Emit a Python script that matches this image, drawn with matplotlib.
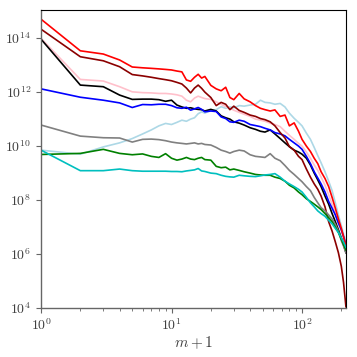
import numpy as np
import matplotlib
matplotlib.use('Agg')
import matplotlib.pyplot as plt
from matplotlib.ticker import LogLocator, NullFormatter

plt.rcParams['mathtext.fontset'] = 'cm'
plt.rcParams['font.family'] = 'serif'

#dane (m+1, log10 wartosci)
m1 = [1, 2, 3, 4, 5, 6, 7, 8, 9, 10, 11, 12, 13, 14, 15, 16, 17, 18, 20, 22,
      24, 26, 28, 30, 33, 36, 40, 44, 48, 52, 57, 62, 68, 74, 80, 87, 94, 100,
      108, 116, 124, 132, 140, 150, 160, 170, 180, 190, 200, 208, 217]

red = [14.70, 13.53, 13.41, 13.19, 12.93, 12.90, 12.88, 12.86, 12.84, 12.82, 12.78,
       12.75, 12.45, 12.40, 12.55, 12.66, 12.52, 12.58, 12.25, 12.12, 12.05, 12.18,
       11.80, 11.72, 11.95, 11.75, 11.64, 11.50, 11.40, 11.35, 11.30, 11.34, 11.10,
       11.15, 10.75, 10.86, 10.55, 10.25, 10.00, 9.80, 9.55, 9.35, 9.05, 8.80, 8.50,
       8.10, 7.70, 7.30, 6.95, 6.65, 6.30]
darkred = [14.33, 13.31, 13.16, 12.94, 12.65, 12.60, 12.55, 12.50, 12.46, 12.42, 12.36,
           12.30, 12.15, 11.97, 12.15, 12.26, 12.14, 12.00, 11.80, 11.50, 11.62, 11.55,
           11.35, 11.48, 11.32, 11.25, 11.15, 11.10, 11.02, 10.98, 10.90, 10.75, 10.50,
           10.30, 9.98, 9.85, 9.62, 9.50, 9.15, 8.85, 8.60, 8.40, 8.15, 7.75, 7.20,
           6.85, 6.45, 6.05, 5.55, 4.95, 4.05]
pink = [13.99, 12.47, 12.41, 12.20, 12.01, 11.98, 11.97, 11.95, 11.95, 11.93, 11.90,
        11.85, 11.70, 11.64, 11.78, 11.85, 11.80, 11.76, 11.73, 11.64, 11.55, 11.46,
        11.40, 11.33, 11.25, 11.18, 11.10, 11.00, 10.96, 10.92, 10.85, 10.80, 10.72,
        10.55, 10.40, 10.25, 10.10, 10.00, 9.78, 9.55, 9.30, 9.10, 8.85, 8.55, 8.20,
        7.85, 7.50, 7.15, 6.85, 6.60, 6.35]
black = [13.96, 12.26, 12.20, 11.89, 11.73, 11.74, 11.74, 11.72, 11.66, 11.70, 11.52,
         11.45, 11.40, 11.42, 11.38, 11.36, 11.35, 11.30, 11.36, 11.30, 11.12, 11.05,
         11.00, 10.90, 10.85, 10.78, 10.68, 10.62, 10.55, 10.52, 10.60, 10.45, 10.28,
         10.12, 9.98, 9.85, 9.78, 9.70, 9.55, 9.30, 9.00, 8.75, 8.50, 8.15, 7.85,
         7.50, 7.20, 6.90, 6.60, 6.35, 6.05]
blue = [12.12, 11.81, 11.70, 11.60, 11.43, 11.54, 11.53, 11.55, 11.55, 11.50, 11.42,
        11.40, 11.44, 11.33, 11.38, 11.43, 11.36, 11.27, 11.30, 11.28, 11.08, 11.02,
        10.90, 10.88, 10.96, 10.92, 10.80, 10.76, 10.72, 10.66, 10.60, 10.50, 10.45,
        10.38, 10.25, 10.12, 10.00, 9.88, 9.62, 9.35, 9.05, 8.82, 8.60, 8.30, 7.95,
        7.70, 7.45, 7.15, 6.90, 6.65, 6.35]
lightblue = [9.85, 9.70, 9.97, 10.12, 10.28, 10.45, 10.60, 10.75, 10.84, 10.80, 10.88,
             10.96, 10.92, 11.00, 11.05, 11.20, 11.27, 11.22, 11.33, 11.35, 11.46, 11.40,
             11.45, 11.42, 11.50, 11.48, 11.52, 11.55, 11.70, 11.62, 11.60, 11.55, 11.58,
             11.45, 11.22, 11.03, 10.88, 10.75, 10.48, 10.25, 9.95, 9.65, 9.38, 9.05, 8.70,
             8.35, 7.90, 7.45, 7.05, 6.75, 6.45]
gray = [10.78, 10.37, 10.31, 10.30, 10.15, 10.25, 10.26, 10.24, 10.20, 10.15, 10.12,
        10.10, 10.08, 10.10, 10.12, 10.08, 10.10, 10.06, 10.04, 9.95, 9.85, 9.80,
        9.74, 9.80, 9.85, 9.82, 9.68, 9.62, 9.60, 9.58, 9.72, 9.55, 9.46, 9.28,
        9.10, 8.95, 8.80, 8.68, 8.50, 8.35, 8.10, 7.90, 7.72, 7.60, 7.45, 7.30,
        7.10, 6.85, 6.50, 6.30, 6.05]
green = [9.69, 9.73, 9.88, 9.73, 9.68, 9.71, 9.62, 9.58, 9.72, 9.55, 9.48,
         9.52, 9.58, 9.52, 9.50, 9.55, 9.58, 9.50, 9.48, 9.25, 9.20, 9.22,
         9.12, 9.15, 9.10, 9.05, 9.00, 8.95, 8.93, 8.92, 8.92, 8.85, 8.80, 8.70,
         8.55, 8.45, 8.30, 8.20, 8.05, 7.95, 7.85, 7.75, 7.65, 7.50, 7.35, 7.20,
         7.00, 6.80, 6.55, 6.35, 6.15]
cyan = [9.85, 9.09, 9.09, 9.15, 9.09, 9.07, 9.07, 9.07, 9.07, 9.06, 9.06,
        9.05, 9.08, 9.10, 9.12, 9.17, 9.08, 9.06, 9.00, 8.98, 8.92, 8.88,
        8.86, 8.85, 8.92, 8.90, 8.88, 8.87, 8.90, 8.93, 8.95, 8.98, 8.85, 8.70,
        8.60, 8.50, 8.40, 8.30, 8.10, 7.90, 7.75, 7.60, 7.50, 7.40, 7.25, 7.12,
        6.95, 6.80, 6.60, 6.45, 6.25]

series = [(lightblue, 'lightblue'), (pink, 'pink'), (black, 'k'), (blue, 'b'),
          (darkred, 'darkred'), (red, 'r'), (gray, 'gray'), (green, 'g'), (cyan, 'c')]

#wykres
fig = plt.figure(figsize=(3.57, 3.57), dpi=100)
ax = fig.add_axes([0.115, 0.137, 0.854, 0.835])
for vals, col in series:
    ax.plot(m1, 10.0 ** np.array(vals), color=col, lw=1.2)

ax.set_xscale('log')
ax.set_yscale('log')
ax.set_xlim(1, 217)
ax.set_ylim(1e4, 1.1e15)

ax.set_xticks([1, 10, 100])
ax.set_xticklabels(['$10^{0}$', '$10^{1}$', '$10^{2}$'])
ax.xaxis.set_minor_locator(LogLocator(base=10, subs=np.arange(2, 10)))
ax.xaxis.set_minor_formatter(NullFormatter())
yt = np.arange(4, 15, 2)
ax.set_yticks(10.0 ** yt)
ax.set_yticklabels([f'$10^{{{k}}}$' for k in yt])
ax.yaxis.set_minor_locator(plt.NullLocator())

for s in ['left', 'bottom']:
    ax.spines[s].set_color('0.4')
    ax.spines[s].set_linewidth(1.0)
ax.tick_params(which='both', colors='0.4', labelcolor='0.25', labelsize=10)
ax.set_xlabel('$m+1$', fontsize=11, color='0.25', labelpad=1)

plt.savefig('out.png', dpi=100)
